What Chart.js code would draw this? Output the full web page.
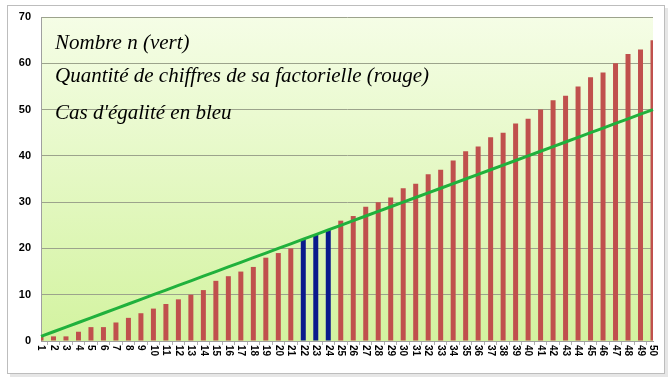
<!DOCTYPE html>
<html>
<head>
<meta charset="utf-8">
<script src="https://cdn.jsdelivr.net/npm/chart.js@4.4.1/dist/chart.umd.min.js"></script>
<style>
  html, body { margin: 0; padding: 0; background: #ffffff; }
  #wrap { position: relative; width: 671px; height: 380px; }
  #c { position: absolute; left: 0; top: 0; }
  .note { position: absolute; left: 55px; font-family: "Liberation Serif", "DejaVu Serif", serif; font-style: italic; font-size: 21px; color: #000; white-space: nowrap; line-height: 1; }
</style>
</head>
<body>
<div id="wrap">
  <canvas id="c" width="671" height="380"></canvas>
  <div class="note" style="top:32px">Nombre n (vert)</div>
  <div class="note" style="top:65px">Quantité de chiffres de sa factorielle (rouge)</div>
  <div class="note" style="top:102px">Cas d'égalité en bleu</div>
</div>
<script>
// ---- data ----
const categories = ['1','2','3','4','5','6','7','8','9','10','11','12','13','14','15','16','17','18','19','20','21','22','23','24','25','26','27','28','29','30','31','32','33','34','35','36','37','38','39','40','41','42','43','44','45','46','47','48','49','50'];
const nombreN = [1,2,3,4,5,6,7,8,9,10,11,12,13,14,15,16,17,18,19,20,21,22,23,24,25,26,27,28,29,30,31,32,33,34,35,36,37,38,39,40,41,42,43,44,45,46,47,48,49,50];
const chiffresFactorielle = [1,1,1,2,3,3,4,5,6,7,8,9,10,11,13,14,15,16,18,19,20,22,23,24,26,27,29,30,31,33,34,36,37,39,41,42,44,45,47,48,50,52,53,55,57,58,60,62,63,65];
const egalite = ['22','23','24'];
const yTicks = [0,10,20,30,40,50,60,70];

const RED = '#c0504d', BLUE = '#0a1a8c', GREEN = '#20b13c';
const barColors = categories.map(c => egalite.includes(c) ? BLUE : RED);

const framePlugin = {
  id: 'frame',
  beforeDraw(chart) {
    const ctx = chart.ctx;
    ctx.save();
    ctx.fillStyle = '#e6e6e6';
    ctx.fillRect(10, 8, 658, 369);
    ctx.fillStyle = '#ffffff';
    ctx.fillRect(7, 5, 658, 369);
    ctx.strokeStyle = '#bdbdbd';
    ctx.lineWidth = 1;
    ctx.strokeRect(7.5, 5.5, 657, 368);
    const a = chart.chartArea;
    const g = ctx.createLinearGradient(0, a.top, 0, a.bottom);
    g.addColorStop(0, '#f5fde6');
    g.addColorStop(1, '#d3f3a0');
    ctx.fillStyle = g;
    ctx.fillRect(a.left, a.top, a.right - a.left, a.bottom - a.top);
    ctx.restore();
  },
  afterDraw(chart) {
    const ctx = chart.ctx;
    const xs = chart.scales.x;
    const a = chart.chartArea;
    ctx.save();
    ctx.font = 'bold 10px "Liberation Sans", Arial, sans-serif';
    ctx.fillStyle = '#000';
    ctx.textAlign = 'left';
    ctx.textBaseline = 'middle';
    categories.forEach((lab, i) => {
      const px = xs.getPixelForTick(i);
      ctx.save();
      ctx.translate(px, a.bottom + 4);
      ctx.rotate(Math.PI / 2);
      ctx.fillText(lab, 0, 0);
      ctx.restore();
    });
    ctx.restore();
  }
};

new Chart(document.getElementById('c'), {
  data: {
    labels: categories,
    datasets: [
      {
        type: 'line',
        label: 'Nombre n',
        data: nombreN,
        borderColor: GREEN,
        borderWidth: 3,
        pointRadius: 0,
        tension: 0,
        order: 0
      },
      {
        type: 'bar',
        label: 'Chiffres de n!',
        data: chiffresFactorielle,
        backgroundColor: barColors,
        barPercentage: 0.5,
        categoryPercentage: 0.8,
        order: 1
      }
    ]
  },
  options: {
    responsive: false,
    animation: false,
    layout: { padding: { left: 8, right: 18, top: 17, bottom: 7 } },
    plugins: { legend: { display: false }, tooltip: { enabled: false } },
    scales: {
      x: {
        type: 'category',
        offset: false,
        grid: { display: true, drawOnChartArea: false, drawTicks: true, tickLength: 4, color: '#b0b0b0' },
        border: { display: true, color: '#a0a0a0' },
        ticks: { display: false },
        afterFit(s) { s.height = 32; }
      },
      y: {
        min: 0, max: 70,
        afterBuildTicks(s) { s.ticks = yTicks.map(v => ({ value: v })); },
        grid: { color: '#9ca38c', drawTicks: false, lineWidth: 1 },
        border: { display: true, color: '#a0a0a0' },
        ticks: { padding: 10, color: '#000', font: { family: '"Liberation Sans", Arial, sans-serif', size: 11, weight: 'bold' } },
        afterFit(s) { s.width = 33; }
      }
    }
  },
  plugins: [framePlugin]
});
</script>
</body>
</html>
